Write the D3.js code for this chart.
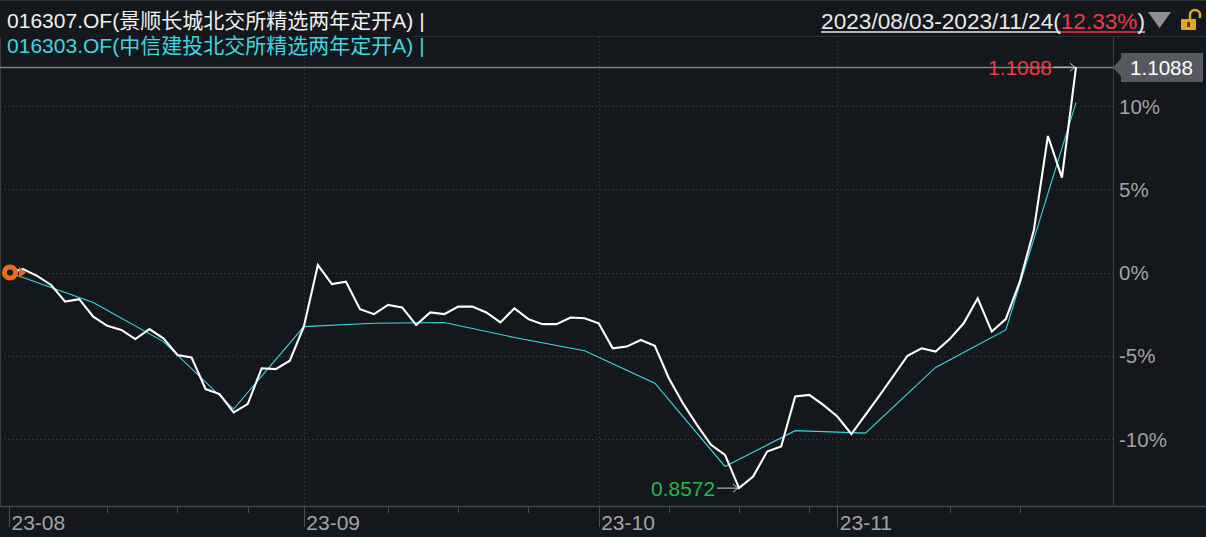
<!DOCTYPE html>
<html><head><meta charset="utf-8">
<script src="https://cdn.jsdelivr.net/npm/d3@7/dist/d3.min.js"></script>
<style>
html,body{margin:0;padding:0;background:#14171c;overflow:hidden}
svg{display:block}
text{font-family:"Liberation Sans","Noto Sans CJK SC",sans-serif}
</style></head><body>
<svg id="chart" width="1206" height="537"></svg>
<script>
// ---- data ----
const dates = [
 "2023-08-03","2023-08-04","2023-08-07","2023-08-08","2023-08-09","2023-08-10","2023-08-11","2023-08-14","2023-08-15","2023-08-16",
 "2023-08-17","2023-08-18","2023-08-21","2023-08-22","2023-08-23","2023-08-24","2023-08-25","2023-08-28","2023-08-29","2023-08-30",
 "2023-08-31","2023-09-01","2023-09-04","2023-09-05","2023-09-06","2023-09-07","2023-09-08","2023-09-11","2023-09-12","2023-09-13",
 "2023-09-14","2023-09-15","2023-09-18","2023-09-19","2023-09-20","2023-09-21","2023-09-22","2023-09-25","2023-09-26","2023-09-27",
 "2023-09-28","2023-09-30","2023-10-09","2023-10-10","2023-10-11","2023-10-12","2023-10-13","2023-10-16","2023-10-17","2023-10-18",
 "2023-10-19","2023-10-20","2023-10-23","2023-10-24","2023-10-25","2023-10-26","2023-10-27","2023-10-30","2023-10-31","2023-11-01",
 "2023-11-02","2023-11-03","2023-11-06","2023-11-07","2023-11-08","2023-11-09","2023-11-10","2023-11-13","2023-11-14","2023-11-15",
 "2023-11-16","2023-11-17","2023-11-20","2023-11-21","2023-11-22","2023-11-23","2023-11-24"];
// 016307.OF interval return, % (daily)
const fundA = [
 0, 0.2, -0.2, -0.75, -1.75, -1.6, -2.65, -3.2, -3.45, -4.0,
 -3.4, -3.95, -4.95, -5.1, -7.0, -7.3, -8.4, -7.9, -5.75, -5.8,
 -5.3, -3.25, 0.45, -0.7, -0.55, -2.2, -2.5, -1.95, -2.1, -3.15,
 -2.4, -2.5, -2.05, -2.05, -2.4, -3.0, -2.15, -2.8, -3.1, -3.1,
 -2.7, -2.75, -3.05, -4.55, -4.45, -4.05, -4.4, -6.35, -7.85, -9.15,
 -10.35, -10.95, -12.95, -12.25, -10.75, -10.45, -7.45, -7.35, -7.95, -8.65,
 -9.7, -8.55, -7.4, -6.2, -5.0, -4.55, -4.75, -4.0, -3.05, -1.55,
 -3.55, -2.8, -0.55, 2.55, 8.2, 5.7, 12.33];
// 016303.OF interval return, % (weekly)
const datesB = ["2023-08-03","2023-08-11","2023-08-18","2023-08-25","2023-09-01","2023-09-08","2023-09-15","2023-09-22",
 "2023-09-30","2023-10-13","2023-10-20","2023-10-27","2023-11-03","2023-11-10","2023-11-17","2023-11-24"];
const fundB = [0, -1.8, -4.15, -8.2, -3.25, -3.05, -3.0, -3.9, -4.7, -6.65, -11.65, -9.5, -9.65, -5.7, -3.45, 10.2];
const yTicks = [-10, -5, 0, 5, 10];
const nameA = "016307.OF(景顺长城北交所精选两年定开A) |";
const nameB = "016303.OF(中信建投北交所精选两年定开A) |";
const rangeText = "2023/08/03-2023/11/24";
const rangeReturn = "12.33%";
const maxLabel = "1.1088", minLabel = "0.8572", lastLabel = "1.1088";

// ---- layout ----
const W = 1206, H = 537;
const plotTop = 37, plotBottom = 506, axisX = 1113;
const svg = d3.select("#chart");
svg.append("rect").attr("width", W).attr("height", H).attr("fill", "#14171c");

const x = d3.scaleLinear().domain([0, dates.length - 1]).range([9, 1076]);
const y = d3.scaleLinear().domain([-10, 10]).range([439, 106]);
const parse = d3.timeParse("%Y-%m-%d");
const pd = dates.map(parse);

// fit a text node to a target width by adjusting its font size
function fitWidth(sel, target) {
  const fs = +sel.attr("font-size");
  const w = sel.node().getComputedTextLength();
  if (w > 0) sel.attr("font-size", (fs * target / w).toFixed(2));
}

// frame lines
svg.append("line").attr("x1", 0).attr("x2", W).attr("y1", 0.5).attr("y2", 0.5).attr("stroke", "#2c2f36");
svg.append("line").attr("x1", 413).attr("x2", W).attr("y1", plotTop - 0.5).attr("y2", plotTop - 0.5).attr("stroke", "#2c2f36");
svg.append("line").attr("x1", 0.5).attr("x2", 0.5).attr("y1", plotTop).attr("y2", plotBottom).attr("stroke", "#3a3d44");
svg.append("line").attr("x1", axisX + 0.5).attr("x2", axisX + 0.5).attr("y1", plotTop).attr("y2", plotBottom).attr("stroke", "#3e4149");
svg.append("line").attr("x1", 0).attr("x2", W).attr("y1", plotBottom + 0.5).attr("y2", plotBottom + 0.5).attr("stroke", "#44474f").attr("stroke-width", 1.5);

// month + week ticks
const monthIdx = [];
pd.forEach((d, i) => { if (i === 0 || d.getMonth() !== pd[i - 1].getMonth()) monthIdx.push(i); });
const weekIdx = [];
pd.forEach((d, i) => {
  if (d.getDay() === 1 && !monthIdx.includes(i)) {
    const prevM = monthIdx.filter(m => m <= i).pop();
    if (x(i) - x(prevM) > 60) weekIdx.push(i);
  }
});
// horizontal grid
svg.append("g").selectAll("line").data(yTicks).join("line")
  .attr("x1", 0).attr("x2", axisX).attr("y1", d => Math.round(y(d)) + 0.5).attr("y2", d => Math.round(y(d)) + 0.5)
  .attr("stroke", "#41454d").attr("stroke-dasharray", "1,3");
// vertical grid
svg.append("g").selectAll("line").data(monthIdx.filter(i => i > 0)).join("line")
  .attr("x1", d => Math.round(x(d)) + 0.5).attr("x2", d => Math.round(x(d)) + 0.5)
  .attr("y1", plotTop).attr("y2", plotBottom)
  .attr("stroke", "#41454d").attr("stroke-dasharray", "1,3");

// bottom axis ticks
svg.append("g").selectAll("line").data(monthIdx).join("line")
  .attr("x1", d => Math.round(x(d)) + 0.5).attr("x2", d => Math.round(x(d)) + 0.5)
  .attr("y1", plotBottom).attr("y2", plotBottom + 21).attr("stroke", "#4a4d55");
svg.append("g").selectAll("line").data(weekIdx).join("line")
  .attr("x1", d => Math.round(x(d)) + 0.5).attr("x2", d => Math.round(x(d)) + 0.5)
  .attr("y1", plotBottom).attr("y2", plotBottom + 7).attr("stroke", "#4a4d55");
const fmtM = d3.timeFormat("%y-%m");
svg.append("g").selectAll("text").data(monthIdx).join("text")
  .attr("x", d => x(d) + 2.5).attr("y", 530)
  .attr("fill", "#a3a3a3").attr("font-size", 21)
  .text(d => fmtM(pd[d]));

// right axis labels
svg.append("g").selectAll("text").data(yTicks).join("text")
  .attr("x", axisX + 6).attr("y", d => y(d) + 7.5)
  .attr("fill", "#a3a3a3").attr("font-size", 20.5)
  .text(d => d + "%");

// last-value line
const lastV = fundA[fundA.length - 1];
svg.append("line").attr("x1", 0).attr("x2", axisX).attr("y1", Math.round(y(lastV)) + 0.5).attr("y2", Math.round(y(lastV)) + 0.5)
  .attr("stroke", "#7d7f84").attr("stroke-width", 1.3);

// series lines
const lineA = d3.line().x((d, i) => x(i)).y(d => y(d));
const idxB = datesB.map(d => dates.indexOf(d));
const lineB = d3.line().x((d, i) => x(idxB[i])).y(d => y(d));
svg.append("path").datum(fundB).attr("d", lineB).attr("fill", "none").attr("stroke", "#3ad8e6").attr("stroke-width", 1.1);
svg.append("path").datum(fundA).attr("d", lineA).attr("fill", "none").attr("stroke", "#ffffff").attr("stroke-width", 2.1).attr("stroke-linejoin", "miter");

// min / max annotations
const maxI = d3.maxIndex(fundA), minI = d3.minIndex(fundA);
function annot(i, label, color) {
  const px = x(i), py = y(fundA[i]);
  const g = svg.append("g");
  g.append("line").attr("x1", px - 22).attr("x2", px - 1).attr("y1", py).attr("y2", py).attr("stroke", "#c9c9c9").attr("stroke-width", 1);
  g.append("path").attr("d", `M${px - 6},${py - 4}L${px - 1},${py}L${px - 6},${py + 4}`).attr("fill", "none").attr("stroke", "#c9c9c9").attr("stroke-width", 1);
  const t = g.append("text").attr("x", px - 24).attr("y", py + 7.5).attr("text-anchor", "end").attr("fill", color).attr("font-size", 20).text(label);
  fitWidth(t, 64);
}
annot(maxI, maxLabel, "#ee3a43");
annot(minI, minLabel, "#22b84f");

// start marker
const sx = x(0), sy = y(0);
svg.append("circle").attr("cx", sx + 1).attr("cy", sy).attr("r", 5.6).attr("fill", "#14171c").attr("stroke", "#ea6a1c").attr("stroke-width", 5);
svg.append("path").attr("d", `M${sx + 10},${sy - 5.5}L${sx + 17},${sy}L${sx + 10},${sy + 5.5}Z`).attr("fill", "#ea6a1c");

// right tag
const ty = Math.round(y(lastV)) + 0.5;
svg.append("path").attr("d", `M${axisX},${ty}L${axisX + 8},${ty - 9}L${axisX + 8},${ty - 14.5}L1203,${ty - 14.5}L1203,${ty + 14.5}L${axisX + 8},${ty + 14.5}L${axisX + 8},${ty + 9}Z`)
  .attr("fill", "#55585f");
const tagT = svg.append("text").attr("x", 1130).attr("y", ty + 7.5).attr("fill", "#ffffff").attr("font-size", 20).text(lastLabel);
fitWidth(tagT, 63);

// header
const hA = svg.append("text").attr("x", 7).attr("y", 28).attr("fill", "#f0f0f0").attr("font-size", 20).text(nameA);
const hB = svg.append("text").attr("x", 7).attr("y", 53).attr("fill", "#3dd6e3").attr("font-size", 20).text(nameB);
fitWidth(hA, 418);
fitWidth(hB, 418);

// top right range
const endX = 1145, baseY = 29;
const tp = svg.append("g").attr("font-size", 22);
const parts = [[rangeText + "(", "#e8e8e8"], [rangeReturn, "#ee3a43"], [")", "#e8e8e8"]];
let nodes = parts.map(p => tp.append("text").attr("y", baseY).attr("fill", p[1]).text(p[0]));
let widths = nodes.map(n => n.node().getComputedTextLength());
const scaleF = 324 / d3.sum(widths);
tp.attr("font-size", (22 * scaleF).toFixed(2));
widths = nodes.map(n => n.node().getComputedTextLength());
let cx = endX - d3.sum(widths);
nodes.forEach((n, i) => {
  n.attr("x", cx);
  tp.append("line").attr("x1", cx).attr("x2", cx + widths[i]).attr("y1", baseY + 3).attr("y2", baseY + 3)
    .attr("stroke", parts[i][1]).attr("stroke-width", 1.3);
  cx += widths[i];
});
svg.append("path").attr("d", "M1148,12L1171,12L1159.5,28Z").attr("fill", "#8f8f8f");
// lock icon
svg.append("path").attr("d", "M1190,19V15A5,5 0 0 1 1200,15V18").attr("fill", "none").attr("stroke", "#e2a626").attr("stroke-width", 2.5);
svg.append("rect").attr("x", 1181).attr("y", 19).attr("width", 15).attr("height", 11).attr("rx", 1).attr("fill", "#e2a626");
svg.append("rect").attr("x", 1187).attr("y", 22).attr("width", 3).attr("height", 5).attr("fill", "#5a3f0a");
</script>
</body></html>
